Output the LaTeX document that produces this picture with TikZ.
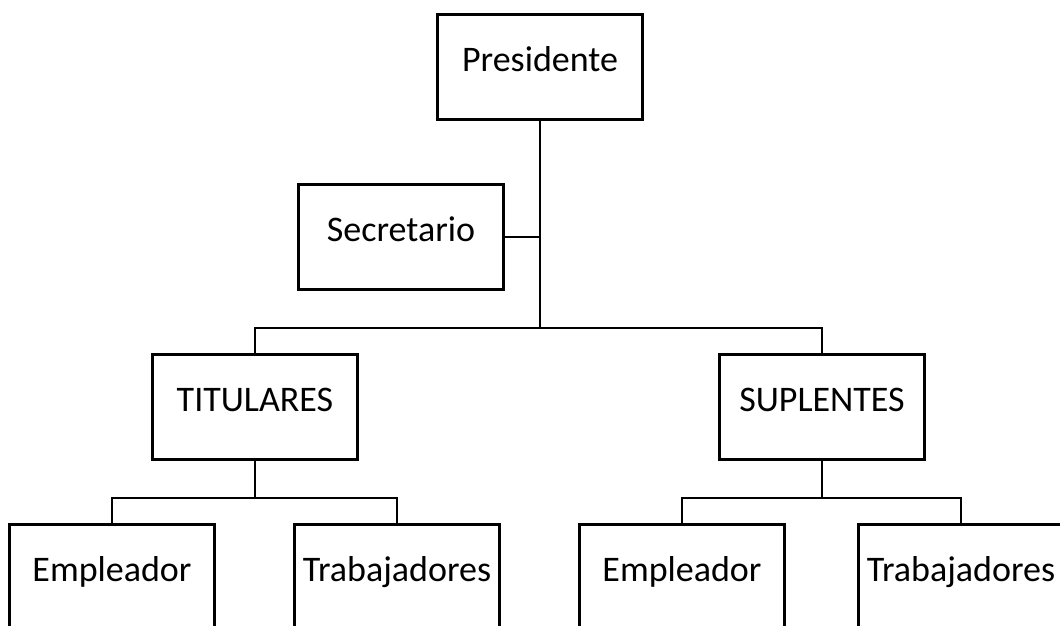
\documentclass[tikz,border=0pt]{standalone}
\usepackage{fontspec}
\setmainfont{Carlito}
\begin{document}
\begin{tikzpicture}[x=1pt, y=-1pt, line width=2.8pt,
  cargo/.style={draw, rectangle, minimum width=205pt, minimum height=105pt,
    inner sep=0pt, text height=26pt, text depth=18pt,
    font=\fontsize{36}{40}\selectfont}]
\useasboundingbox (0,0) rectangle (1060,626);
\node[cargo] (pres) at (540,67) {Presidente};
\node[cargo] (sec) at (401,237) {Secretario};
\node[cargo] (tit) at (255,407) {TITULARES};
\node[cargo] (sup) at (822,407) {SUPLENTES};
\node[cargo] (emp1) at (112,577) {Empleador};
\node[cargo] (trab1) at (397,577) {Trabajadores};
\node[cargo] (emp2) at (682,577) {Empleador};
\node[cargo] (trab2) at (961,577) {Trabajadores};
\coordinate (mid) at (540,328);
\coordinate (tj) at (255,498);
\coordinate (sj) at (822,498);
\draw (pres.south) -- (mid);
\draw (sec.east) -- (sec.east -| pres);
\draw (tit.north) |- (mid) -| (sup.north);
\draw (tit.south) -- (tj);
\draw (emp1.north) |- (tj) -| (trab1.north);
\draw (sup.south) -- (sj);
\draw (emp2.north) |- (sj) -| (trab2.north);
\end{tikzpicture}
\end{document}
